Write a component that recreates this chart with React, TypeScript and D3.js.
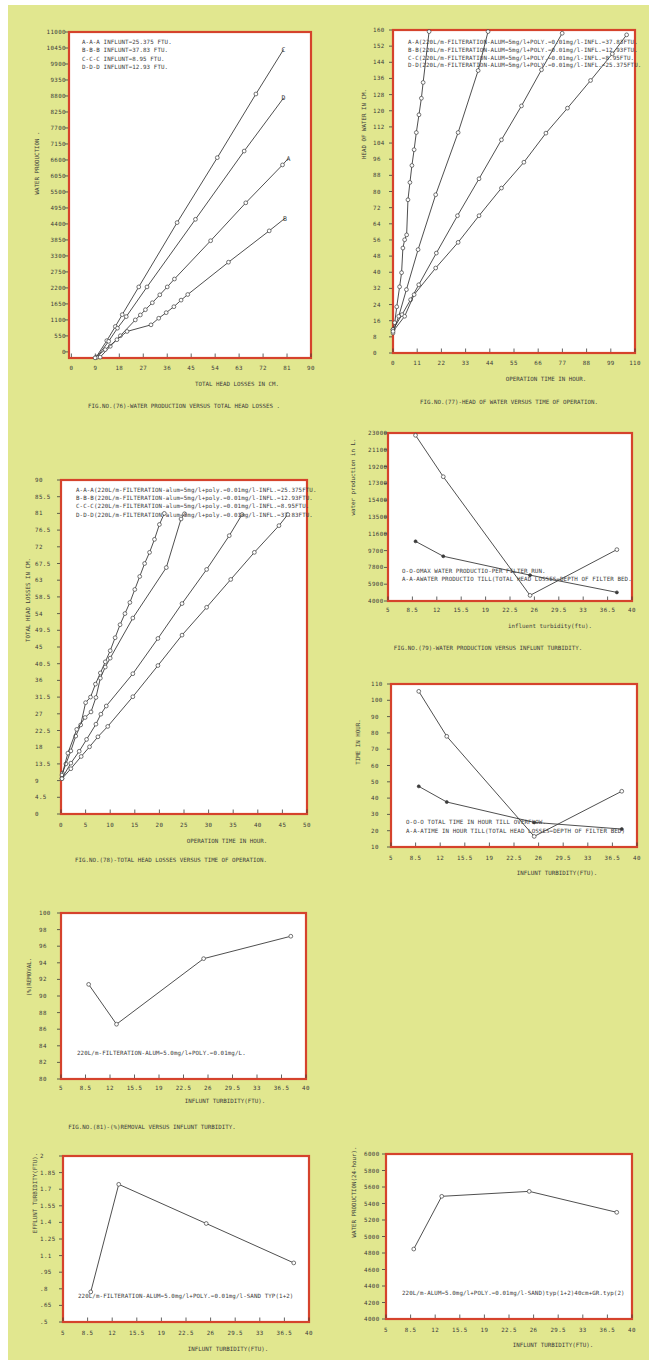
import React from 'react';
import * as d3 from 'd3';

type Pt = [number, number];

const W = 649;
const H = 1360;
const FONT = '"DejaVu Sans Mono", "Liberation Mono", monospace';
const INK = '#3b3b3b';
const RED = '#d5432c';
const BG = '#e1e78f';

// ---------- FIG 76: water production vs total head losses ----------
const fig76XTicks = [0, 9, 18, 27, 36, 45, 54, 63, 72, 81, 90];
const fig76YTicks = [0, 550, 1100, 1650, 2200, 2750, 3300, 3850, 4400, 4950, 5500, 6050, 6600, 7150, 7700, 8250, 8800, 9350, 9900, 10450, 11000];
const fig76C: Pt[] = [[9.3, -181], [13.3, 386], [16.5, 873], [19.1, 1281], [25.3, 2234], [39.7, 4445], [54.8, 6679], [69.3, 8868], [79.7, 10399]];
const fig76D: Pt[] = [[9.6, -181], [14.0, 363], [17.3, 816], [20.6, 1213], [28.4, 2234], [46.6, 4559], [64.9, 6906], [79.7, 8732]];
const fig76A: Pt[] = [[10.8, -181], [14.6, 193], [18.4, 556], [24.0, 1100], [25.9, 1270], [27.8, 1451], [30.4, 1690], [33.2, 1962], [36.0, 2234], [38.7, 2506], [52.3, 3822], [65.5, 5126], [79.3, 6430], [81.5, 6657]];
const fig76B: Pt[] = [[8.9, -204], [12.7, 79], [17.1, 420], [20.9, 703], [29.9, 930], [32.8, 1157], [35.6, 1349], [38.5, 1554], [41.2, 1780], [43.7, 1973], [59.0, 3084], [74.3, 4162], [80.2, 4593]];
const fig76Legend = [
  'A-A-A INFLUNT=25.375 FTU.',
  'B-B-B INFLUNT=37.83 FTU.',
  'C-C-C INFLUNT=8.95 FTU.',
  'D-D-D INFLUNT=12.93 FTU.',
];

// ---------- FIG 77: head of water vs time of operation ----------
const fig77XTicks = [0, 11, 22, 33, 44, 55, 66, 77, 88, 99, 110];
const fig77YTicks = [0, 8, 16, 24, 32, 40, 48, 56, 64, 72, 80, 88, 96, 104, 112, 120, 128, 136, 144, 152, 160];
const fig77A: Pt[] = [[0, 11.6], [0.8, 15.0], [1.7, 22.9], [3.0, 32.8], [3.9, 39.8], [4.5, 52.0], [5.3, 56.1], [6.2, 58.5], [6.8, 75.9], [7.7, 84.5], [8.6, 92.9], [9.6, 100.7], [10.6, 109.2], [11.8, 118.0], [12.9, 126.2], [13.7, 134.0], [16.4, 159.2]];
const fig77B: Pt[] = [[0, 9.9], [2.6, 18.2], [6.1, 31.4], [11.4, 51.2], [19.4, 78.4], [29.6, 109.2], [38.7, 139.9], [43.2, 159.2]];
const fig77C: Pt[] = [[0, 11.6], [4.1, 19.0], [8.0, 26.4], [11.7, 33.8], [19.7, 49.5], [29.3, 68.0], [39.1, 86.3], [49.3, 105.6], [58.4, 122.4], [67.5, 140.3], [76.9, 158.4]];
const fig77D: Pt[] = [[0, 10.7], [5.3, 18.2], [9.6, 28.9], [19.4, 42.1], [29.6, 54.8], [39.1, 68.0], [49.3, 81.7], [59.5, 94.5], [69.5, 108.9], [79.3, 121.3], [89.8, 135.0], [99.7, 148.2], [106.2, 157.6]];
const fig77Legend = [
  'A-A(220L/m-FILTERATION-ALUM=5mg/l+POLY.=0.01mg/l-INFL.=37.83FTU.',
  'B-B(220L/m-FILTERATION-ALUM=5mg/l+POLY.=0.01mg/l-INFL.=12.93FTU.',
  'C-C(220L/m-FILTERATION-ALUM=5mg/l+POLY.=0.01mg/l-INFL.=8.95FTU.',
  'D-D(220L/m-FILTERATION-ALUM=5mg/l+POLY.=0.01mg/l-INFL.=25.375FTU.',
];

// ---------- FIG 78: total head losses vs time of operation ----------
const fig78XTicks = [0, 5, 10, 15, 20, 25, 30, 35, 40, 45, 50];
const fig78YTicks = [0, 4.5, 9, 13.5, 18, 22.5, 27, 31.5, 36, 40.5, 45, 49.5, 54, 58.5, 63, 67.5, 72, 76.5, 81, 85.5, 90];
const fig78A: Pt[] = [[0.3, 11], [1, 13.5], [2, 17], [3, 21], [4, 24], [5, 30], [6, 31.5], [7, 35], [8, 38], [9, 41], [10, 44], [11, 47.5], [12, 51], [13, 54], [14, 57], [15, 60.5], [16, 64], [17, 67.5], [18, 70.5], [19, 74], [20, 78], [21, 81]];
const fig78B: Pt[] = [[0.2, 10.5], [1.4, 16.4], [3.2, 22.8], [4.9, 26.0], [6.1, 27.5], [7.1, 31.4], [8.0, 36.6], [9.0, 39.6], [10.0, 42.0], [14.6, 52.8], [21.4, 66.4], [24.4, 79.5], [25.1, 80.9]];
const fig78C: Pt[] = [[0.2, 9.6], [2.0, 13.7], [3.7, 16.9], [5.2, 20.1], [7.1, 24.2], [8.1, 26.9], [9.2, 29.1], [14.6, 37.8], [19.7, 47.3], [24.6, 56.7], [29.6, 65.9], [34.2, 75.0], [36.8, 80.7]];
const fig78D: Pt[] = [[0.2, 9.5], [2.0, 12.2], [4.1, 15.5], [5.8, 18.1], [7.5, 20.8], [9.5, 23.6], [14.6, 31.6], [19.7, 40.0], [24.6, 48.2], [29.6, 55.7], [34.5, 63.2], [39.3, 70.5], [44.3, 77.7], [46.1, 80.7]];
const fig78Legend = [
  'A-A-A(220L/m-FILTERATION-alum=5mg/l+poly.=0.01mg/l-INFL.=25.375FTU.',
  'B-B-B(220L/m-FILTERATION-alum=5mg/l+poly.=0.01mg/l-INFL.=12.93FTU.',
  'C-C-C(220L/m-FILTERATION-alum=5mg/l+poly.=0.01mg/l-INFL.=8.95FTU.',
  'D-D-D(220L/m-FILTERATION-alum=5mg/l+poly.=0.01mg/l-INFL.=37.83FTU.',
];

// ---------- turbidity charts ----------
const turbTicks = [5, 8.5, 12, 15.5, 19, 22.5, 26, 29.5, 33, 36.5, 40];
const influent = [8.95, 12.93, 25.375, 37.83];

const fig79YTicks = [4000, 5900, 7800, 9700, 11600, 13500, 15400, 17300, 19200, 21100, 23000];
const fig79MaxRun = [22740, 18055, 4637, 9809];
const fig79TillDepth = [10746, 9060, 6923, 4974];

const fig80YTicks = [10, 20, 30, 40, 50, 60, 70, 80, 90, 100, 110];
const fig80Overflow = [105.5, 77.9, 16.5, 44.2];
const fig80TillDepth = [47.2, 37.6, 25.1, 21.0];

const fig81YTicks = [80, 82, 84, 86, 88, 90, 92, 94, 96, 98, 100];
const fig81Removal = [91.4, 86.6, 94.5, 97.2];

const fig82YTicks = [0.5, 0.65, 0.8, 0.95, 1.1, 1.25, 1.4, 1.55, 1.7, 1.85, 2];
const fig82YLabels = ['.5', '.65', '.8', '.95', '1.1', '1.25', '1.4', '1.55', '1.7', '1.85', '2'];
const fig82Effluent = [0.772, 1.744, 1.39, 1.034];

const fig83YTicks = [4000, 4200, 4400, 4600, 4800, 5000, 5200, 5400, 5600, 5800, 6000];
const fig83Production = [4848, 5487, 5547, 5293];

const pairs = (xs: number[], ys: number[]): Pt[] => xs.map((v, i) => [v, ys[i]] as Pt);

interface Series { pts: Pt[]; end?: string; filled?: boolean }
interface Txt { x: number; y: number; text: string }
interface PanelCfg {
  box: [number, number, number, number];
  xDomain: [number, number];
  yDomain: [number, number];
  xTicks: number[];
  yTicks: number[];
  yLabels?: string[];
  xLabelDy: number;
  yLabelX: number;
  yAnchor: 'start' | 'end';
  series: Series[];
  notes: Txt[];
  xTitle: Txt;
  yTitle: Txt;
  caption?: Txt;
}

const txt = { fontFamily: FONT, fontSize: 5.8, fill: INK } as const;

function Panel({ c }: { c: PanelCfg }) {
  const [x0, y0, x1, y1] = c.box;
  const x = d3.scaleLinear().domain(c.xDomain).range([x0, x1]);
  const y = d3.scaleLinear().domain(c.yDomain).range([y1, y0]);
  const line = d3.line<Pt>().x((d) => x(d[0])).y((d) => y(d[1]));
  return (
    <g>
      <rect x={x0} y={y0} width={x1 - x0} height={y1 - y0} fill="#fff" stroke={RED} strokeWidth={2.2} />
      {c.xTicks.map((v, i) => (
        <g key={'xt' + i}>
          <line x1={x(v)} x2={x(v)} y1={y1 - 1} y2={y1 - 4.5} stroke={INK} strokeWidth={0.8} />
          <text {...txt} x={x(v)} y={y1 + c.xLabelDy} textAnchor="middle" letterSpacing={0.4}>
            {String(v)}
          </text>
        </g>
      ))}
      {c.yTicks.map((v, i) => (
        <g key={'yt' + i}>
          <line x1={x0 - 1} x2={x0 - 4} y1={y(v)} y2={y(v)} stroke={INK} strokeWidth={0.8} />
          <text {...txt} x={c.yLabelX} y={y(v) + 2} textAnchor={c.yAnchor} letterSpacing={0.4}>
            {c.yLabels ? c.yLabels[i] : String(v)}
          </text>
        </g>
      ))}
      {c.series.map((s, si) => (
        <g key={'s' + si}>
          <path d={line(s.pts) || ''} fill="none" stroke={INK} strokeWidth={0.9} />
          {s.pts.map((p, pi) =>
            s.end && pi === s.pts.length - 1 ? (
              <text key={pi} {...txt} fontSize={6.5} x={x(p[0])} y={y(p[1]) + 2.3} textAnchor="middle">
                {s.end}
              </text>
            ) : (
              <circle
                key={pi}
                cx={x(p[0])}
                cy={y(p[1])}
                r={s.filled ? 1.5 : 1.9}
                fill={s.filled ? INK : '#fff'}
                stroke={INK}
                strokeWidth={0.7}
              />
            )
          )}
        </g>
      ))}
      {c.notes.map((n, i) => (
        <text key={'n' + i} {...txt} x={n.x} y={n.y} letterSpacing={0.1}>
          {n.text}
        </text>
      ))}
      <text {...txt} x={c.xTitle.x} y={c.xTitle.y} textAnchor="middle">
        {c.xTitle.text}
      </text>
      <text
        {...txt}
        x={0}
        y={0}
        textAnchor="middle"
        dominantBaseline="central"
        transform={`translate(${c.yTitle.x},${c.yTitle.y}) rotate(-90)`}
      >
        {c.yTitle.text}
      </text>
      {c.caption && (
        <text {...txt} x={c.caption.x} y={c.caption.y} textAnchor="middle">
          {c.caption.text}
        </text>
      )}
    </g>
  );
}

const legendAt = (lines: string[], x: number, y: number, step: number): Txt[] =>
  lines.map((t, i) => ({ x, y: y + i * step, text: t }));

const panels: PanelCfg[] = [
  {
    box: [69, 32, 311, 358],
    xDomain: [-0.9, 90],
    yDomain: [-210, 11000],
    xTicks: fig76XTicks,
    yTicks: fig76YTicks,
    xLabelDy: 12,
    yLabelX: 66,
    yAnchor: 'end',
    series: [
      { pts: fig76C, end: 'C' },
      { pts: fig76D, end: 'D' },
      { pts: fig76A, end: 'A' },
      { pts: fig76B, end: 'B' },
    ],
    notes: legendAt(fig76Legend, 82, 44, 8.3),
    xTitle: { x: 237, y: 386, text: 'TOTAL HEAD LOSSES IN CM.' },
    yTitle: { x: 37, y: 163, text: 'WATER PRODUCTION .' },
    caption: { x: 184, y: 408, text: 'FIG.NO.(76)-WATER PRODUCTION VERSUS TOTAL HEAD LOSSES .' },
  },
  {
    box: [393, 30, 635, 353],
    xDomain: [0, 110],
    yDomain: [0, 160],
    xTicks: fig77XTicks,
    yTicks: fig77YTicks,
    xLabelDy: 12,
    yLabelX: 373,
    yAnchor: 'start',
    series: [{ pts: fig77A }, { pts: fig77B }, { pts: fig77C }, { pts: fig77D }],
    notes: legendAt(fig77Legend, 408, 44, 7.8),
    xTitle: { x: 546, y: 381, text: 'OPERATION TIME IN HOUR.' },
    yTitle: { x: 364, y: 124, text: 'HEAD OF WATER IN CM.' },
    caption: { x: 509, y: 404, text: 'FIG.NO.(77)-HEAD OF WATER VERSUS TIME OF OPERATION.' },
  },
  {
    box: [61, 480, 307, 814],
    xDomain: [0, 50],
    yDomain: [0, 90],
    xTicks: fig78XTicks,
    yTicks: fig78YTicks,
    xLabelDy: 13,
    yLabelX: 35,
    yAnchor: 'start',
    series: [{ pts: fig78A }, { pts: fig78B }, { pts: fig78C }, { pts: fig78D }],
    notes: legendAt(fig78Legend, 76, 492, 8.2),
    xTitle: { x: 227, y: 843, text: 'OPERATION TIME IN HOUR.' },
    yTitle: { x: 28, y: 600, text: 'TOTAL HEAD LOSSES IN CM.' },
    caption: { x: 171, y: 862, text: 'FIG.NO.(78)-TOTAL HEAD LOSSES VERSUS TIME OF OPERATION.' },
  },
  {
    box: [388, 433, 632, 601],
    xDomain: [5, 40],
    yDomain: [4000, 23000],
    xTicks: turbTicks,
    yTicks: fig79YTicks,
    xLabelDy: 11,
    yLabelX: 368,
    yAnchor: 'start',
    series: [{ pts: pairs(influent, fig79MaxRun) }, { pts: pairs(influent, fig79TillDepth), filled: true }],
    notes: legendAt(
      ['O-O-OMAX WATER PRODUCTIO-PER FILTER RUN.', 'A-A-AWATER PRODUCTIO TILL(TOTAL HEAD LOSSES=DEPTH OF FILTER BED.'],
      402, 573, 8
    ),
    xTitle: { x: 550, y: 628, text: 'influent turbidity(ftu).' },
    yTitle: { x: 353, y: 477, text: 'water production in L.' },
    caption: { x: 488, y: 650, text: 'FIG.NO.(79)-WATER PRODUCTION VERSUS INFLUNT TURBIDITY.' },
  },
  {
    box: [391, 684, 637, 847],
    xDomain: [5, 40],
    yDomain: [10, 110],
    xTicks: turbTicks,
    yTicks: fig80YTicks,
    xLabelDy: 13,
    yLabelX: 371,
    yAnchor: 'start',
    series: [{ pts: pairs(influent, fig80Overflow) }, { pts: pairs(influent, fig80TillDepth), filled: true }],
    notes: legendAt(
      ['O-O-O TOTAL TIME IN HOUR TILL OVERFLOW.', 'A-A-ATIME IN HOUR TILL(TOTAL HEAD LOSSES=DEPTH OF FILTER BED)'],
      406, 824, 9
    ),
    xTitle: { x: 557, y: 875, text: 'INFLUNT TURBIDITY(FTU).' },
    yTitle: { x: 358, y: 742, text: 'TIME IN HOUR.' },
  },
  {
    box: [61, 913, 306, 1079],
    xDomain: [5, 40],
    yDomain: [80, 100],
    xTicks: turbTicks,
    yTicks: fig81YTicks,
    xLabelDy: 11,
    yLabelX: 39,
    yAnchor: 'start',
    series: [{ pts: pairs(influent, fig81Removal) }],
    notes: [{ x: 77, y: 1055, text: '220L/m-FILTERATION-ALUM=5.0mg/l+POLY.=0.01mg/L.' }],
    xTitle: { x: 225, y: 1103, text: 'INFLUNT TURBIDITY(FTU).' },
    yTitle: { x: 29, y: 977, text: '(%)REMOVAL.' },
    caption: { x: 152, y: 1129, text: 'FIG.NO.(81)-(%)REMOVAL VERSUS INFLUNT TURBIDITY.' },
  },
  {
    box: [63, 1156, 309, 1322],
    xDomain: [5, 40],
    yDomain: [0.5, 2],
    xTicks: turbTicks,
    yTicks: fig82YTicks,
    yLabels: fig82YLabels,
    xLabelDy: 13,
    yLabelX: 40,
    yAnchor: 'start',
    series: [{ pts: pairs(influent, fig82Effluent) }],
    notes: [{ x: 78, y: 1298, text: '220L/m-FILTERATION-ALUM=5.0mg/l+POLY.=0.01mg/l-SAND TYP(1+2)' }],
    xTitle: { x: 228, y: 1351, text: 'INFLUNT TURBIDITY(FTU).' },
    yTitle: { x: 35, y: 1193, text: 'EFFLUNT TURBIDITY(FTU).' },
  },
  {
    box: [386, 1154, 632, 1319],
    xDomain: [5, 40],
    yDomain: [4000, 6000],
    xTicks: turbTicks,
    yTicks: fig83YTicks,
    xLabelDy: 13,
    yLabelX: 364,
    yAnchor: 'start',
    series: [{ pts: pairs(influent, fig83Production) }],
    notes: [{ x: 402, y: 1295, text: '220L/m-ALUM=5.0mg/l+POLY.=0.01mg/l-SAND)typ(1+2)40cm+GR.typ(2)' }],
    xTitle: { x: 553, y: 1347, text: 'INFLUNT TURBIDITY(FTU).' },
    yTitle: { x: 354, y: 1192, text: 'WATER PRODUCTION(24-hour).' },
  },
];

export default function App() {
  return (
    <svg
      width={W}
      height={H}
      viewBox={`0 0 ${W} ${H}`}
      style={{ position: 'absolute', left: 0, top: 0, display: 'block' }}
    >
      <rect x={0} y={0} width={W} height={H} fill="#fff" />
      <rect x={8} y={5} width={W - 8} height={H - 5} fill={BG} />
      {panels.map((c, i) => (
        <Panel key={i} c={c} />
      ))}
    </svg>
  );
}
